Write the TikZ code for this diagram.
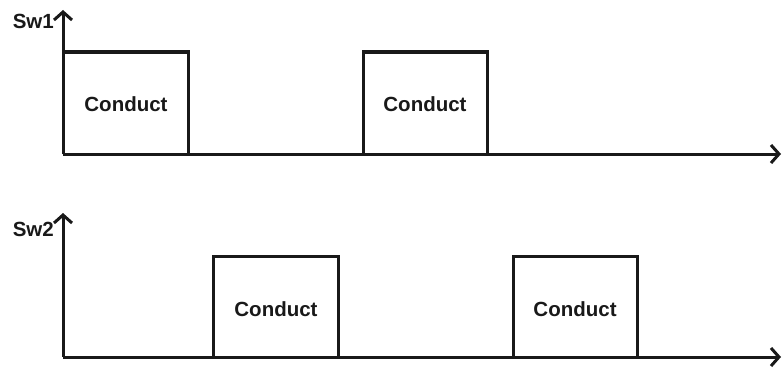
\documentclass[tikz,border=0pt]{standalone}
\usepackage{fontspec}
\setmainfont{Liberation Sans}
\usetikzlibrary{arrows.meta}
\begin{document}
\begin{tikzpicture}[x=1pt,y=-1pt,
  wave/.style={line width=3pt,draw=black!90,line join=miter},
  axis/.style={line width=3pt,draw=black!90,-{Straight Barb[length=8pt,width=18pt,line width=3pt]}},
  lbl/.style={font=\bfseries\fontsize{20.5}{20}\selectfont,text=black!90,inner sep=0pt},
  cond/.style={font=\bfseries\fontsize{20.5}{20}\selectfont,text=black!90,inner sep=0pt}]
\useasboundingbox (0,0) rectangle (783,369);
% top
\coordinate (o1) at (63,154);
\coordinate (y1) at (63,10);
\coordinate (x1) at (781,154);
\draw[axis] (o1) -- (y1);
\draw[axis] (o1) -- (x1);
\draw[wave] (63,154) -- (63,52) -- (188,52) -- (188,154);
\draw[wave] (363,154) -- (363,52) -- (487,52) -- (487,154);
\node[lbl,anchor=east] (sw1) at (54,21) {Sw1};
\node[cond] (c1) at (126,104) {Conduct};
\node[cond] (c2) at (425,104) {Conduct};
% bottom
\coordinate (o2) at (63,357);
\coordinate (y2) at (63,213);
\coordinate (x2) at (781,357);
\draw[axis] (o2) -- (y2);
\draw[axis] (o2) -- (x2);
\draw[wave] (213,357) -- (213,256) -- (338,256) -- (338,357);
\draw[wave] (513,357) -- (513,256) -- (637,256) -- (637,357);
\node[lbl,anchor=east] (sw2) at (54,229) {Sw2};
\node[cond] (c3) at (276,309) {Conduct};
\node[cond] (c4) at (575,309) {Conduct};
\end{tikzpicture}
\end{document}
